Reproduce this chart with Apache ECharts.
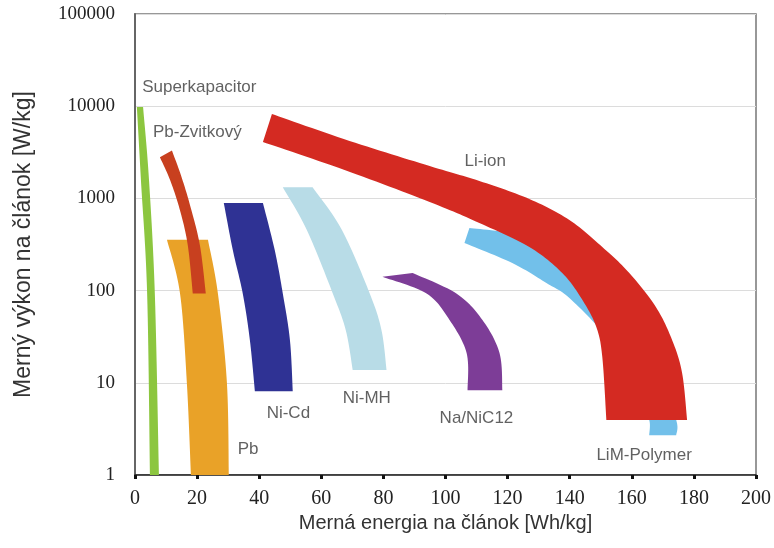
<!DOCTYPE html>
<html><head><meta charset="utf-8">
<script src="https://cdn.jsdelivr.net/npm/echarts@6/dist/echarts.min.js"></script>
<style>html,body{margin:0;padding:0;background:#fff}#c{width:774px;height:548px}</style>
</head><body><div id="c"></div>
<script>
// ---- data (x: Wh/kg, y: W/kg) ----
const xTicks = [0, 20, 40, 60, 80, 100, 120, 140, 160, 180, 200];
const yTickLabels = ['1', '10', '100', '1000', '10000', '100000'];

const superkapLeft  = [[0.6, 9800], [1.9, 1600], [3.9, 95], [4.8, 1]];
const superkapRight = [[2.6, 9800], [4.5, 1600], [6.4, 90], [7.7, 1]];

const pbLeft  = [[10.3, 355], [14.5, 93], [16.7, 10], [18.0, 1]];
const pbRight = [[23.5, 355], [26.7, 93], [29.6, 10], [30.2, 1]];

const pbZvitLeft  = [[8.0, 2800], [11.3, 1580], [14.5, 740], [17.0, 310], [18.6, 93]];
const pbZvitRight = [[11.9, 3300], [14.8, 1780], [17.7, 850], [20.9, 310], [22.8, 93]];

const niCdLeft  = [[28.6, 890], [31.5, 275], [34.7, 93], [37.0, 29], [38.6, 8.1]];
const niCdRight = [[41.2, 890], [45.0, 275], [47.6, 93], [49.9, 29], [50.8, 8.1]];

const niMhLeft  = [[47.6, 1320], [55.3, 457], [63.7, 93], [67.9, 37], [70.1, 13.8]];
const niMhRight = [[57.2, 1320], [66.6, 457], [75.6, 93], [79.4, 37], [81.0, 13.8]];

const naInner = [[79.7, 141], [93.9, 93], [101.3, 48], [106.8, 21], [107.1, 8.3]];
const naOuter = [[89.4, 155], [103.5, 93], [111.9, 48], [117.4, 21], [118.3, 8.3]];

const limOuter = [[107.7, 477], [123.8, 391], [139.9, 190], [155.9, 48], [168.8, 10.7], [174.3, 3.95], [174.3, 2.7]];
const limInner = [[106.1, 328], [121.5, 199], [132.5, 121], [139.9, 83], [151.1, 33], [157.6, 12.2], [162.4, 5.7], [165.6, 3.95], [165.6, 2.7]];

const liIonUpper = [[44.1, 8230], [69.1, 4200], [94.9, 2245], [110.9, 1545], [127.0, 985], [139.9, 583], [150.5, 297], [159.2, 155], [167.8, 66], [173.0, 29], [176.2, 12.8], [177.8, 3.95]];
const liIonLower = [[41.2, 4090], [67.5, 2030], [94.9, 914], [110.9, 541], [127.0, 297], [137.6, 155], [144.1, 79], [148.6, 40], [150.5, 19], [151.8, 3.95]];

const labelNames = ['Superkapacitor', 'Pb-Zvitkový', 'Li-ion', 'Ni-Cd', 'Pb', 'Ni-MH', 'Na/NiC12', 'LiM-Polymer'];
const labelX = [2.3, 5.8, 106.1, 42.4, 33.1, 66.9, 98.1, 148.6];
const labelY = [16200, 5250, 2550, 4.7, 1.9, 6.8, 4.15, 1.65];

// ---- bands ----
const bands = [
  { name: 'Superkapacitor', a: superkapLeft, b: superkapRight, color: '#8cc63f' },
  { name: 'Pb', a: pbLeft, b: pbRight, color: '#e9a228' },
  { name: 'Pb-Zvitkový', a: pbZvitLeft, b: pbZvitRight, color: '#c8401f' },
  { name: 'Ni-Cd', a: niCdLeft, b: niCdRight, color: '#2f3294' },
  { name: 'Ni-MH', a: niMhLeft, b: niMhRight, color: '#b8dce7' },
  { name: 'Na/NiC12', a: naInner, b: naOuter, color: '#7d3d97' },
  { name: 'LiM-Polymer', a: limOuter, b: limInner, color: '#72c0ea' },
  { name: 'Li-ion', a: liIonUpper, b: liIonLower, color: '#d42a22' }
];

function splinePts(pts) {
  const out = [];
  const n = pts.length;
  for (let i = 0; i < n - 1; i++) {
    const p0 = pts[i - 1] || pts[i], p1 = pts[i], p2 = pts[i + 1], p3 = pts[i + 2] || pts[i + 1];
    const c1 = [p1[0] + (p2[0] - p0[0]) / 6, p1[1] + (p2[1] - p0[1]) / 6];
    const c2 = [p2[0] - (p3[0] - p1[0]) / 6, p2[1] - (p3[1] - p1[1]) / 6];
    const steps = 14;
    for (let s = 0; s < steps; s++) {
      const t = s / steps, u = 1 - t;
      out.push([
        u*u*u*p1[0] + 3*u*u*t*c1[0] + 3*u*t*t*c2[0] + t*t*t*p2[0],
        u*u*u*p1[1] + 3*u*u*t*c1[1] + 3*u*t*t*c2[1] + t*t*t*p2[1]
      ]);
    }
  }
  out.push(pts[n - 1]);
  return out;
}

const bandSeries = bands.map(function (band) {
  const all = band.a.concat(band.b.slice().reverse());
  return {
    type: 'custom',
    name: band.name,
    coordinateSystem: 'cartesian2d',
    silent: true,
    data: all,
    renderItem: function (params, api) {
      if (params.dataIndex !== 0) return null;
      const pa = band.a.map(function (p) { return api.coord(p); });
      const pb = band.b.map(function (p) { return api.coord(p); });
      const pts = splinePts(pa).concat(splinePts(pb.slice().reverse()));
      return { type: 'polygon', shape: { points: pts }, style: { fill: band.color, stroke: null } };
    }
  };
});

const labelSeries = {
  type: 'scatter',
  symbolSize: 0,
  silent: true,
  data: labelNames.map(function (n, i) { return { name: n, value: [labelX[i], labelY[i]] }; }),
  label: {
    show: true, position: 'right', distance: 0, formatter: '{b}',
    color: '#3a3a3a', fontSize: 17, fontFamily: 'Liberation Sans'
  },
  z: 10
};

const chart = echarts.init(document.getElementById('c'), null, { renderer: 'canvas' });
chart.setOption({
  animation: false,
  backgroundColor: '#ffffff',
  grid: { left: 135, right: 17, top: 14, bottom: 73, show: true, borderColor: '#777', borderWidth: 1.5, containLabel: false },
  xAxis: {
    type: 'value', min: xTicks[0], max: xTicks[xTicks.length - 1], interval: 20,
    name: 'Merná energia na článok [Wh/kg]', nameLocation: 'middle', nameGap: 36,
    nameTextStyle: { fontFamily: 'Liberation Sans', fontSize: 20, color: '#333' },
    axisLine: { show: true, lineStyle: { color: '#222', width: 1.5 } },
    axisTick: { show: true, length: 4, lineStyle: { color: '#111', width: 3 } },
    splitLine: { show: false },
    axisLabel: { fontFamily: 'Liberation Serif', fontSize: 20, color: '#222', margin: 14 }
  },
  yAxis: {
    type: 'log', logBase: 10, min: 1, max: 100000,
    name: 'Merný výkon na článok [W/kg]', nameLocation: 'middle', nameGap: 100, nameRotate: 90,
    nameTextStyle: { fontFamily: 'Liberation Sans', fontSize: 23, color: '#333' },
    axisLine: { show: true, lineStyle: { color: '#666', width: 2 } },
    axisTick: { show: false },
    splitLine: { show: true, lineStyle: { color: '#dcdcdc', width: 1 } },
    axisLabel: {
      fontFamily: 'Liberation Serif', fontSize: 19, color: '#222', margin: 20,
      formatter: function (v) { return yTickLabels[Math.round(Math.log10(v))]; }
    }
  },
  series: bandSeries.concat([labelSeries])
});
</script>
</body></html>
